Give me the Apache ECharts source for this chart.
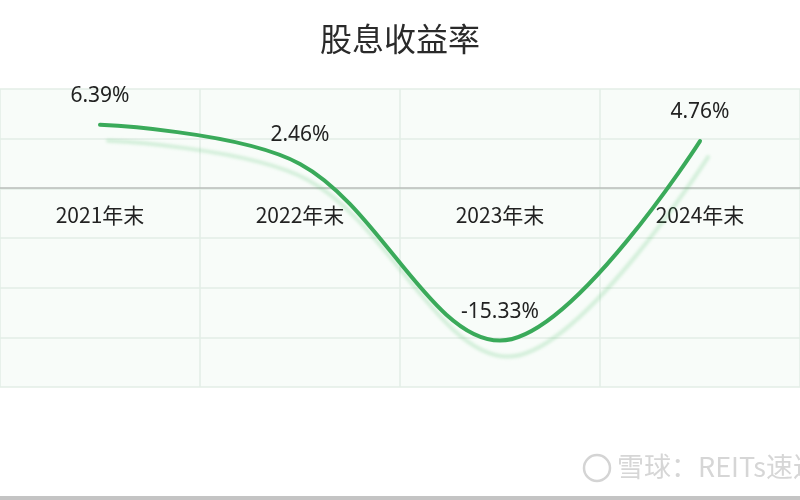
<!DOCTYPE html>
<html>
<head>
<meta charset="utf-8">
<script src="https://cdn.jsdelivr.net/npm/echarts@6/dist/echarts.min.js"></script>
<style>
    html, body {margin: 0; padding: 0; background: #fff;}
    #container {width: 800px; height: 500px;}
</style>
</head>
<body>
<div id="container"></div>
<script>
var years = ['2021年末', '2022年末', '2023年末', '2024年末'];
var yieldRate = [6.39, 2.46, -15.33, 4.76];
var yTicks = {min: -20, max: 10, interval: 5};

function createYieldChart() {
    var dom = document.getElementById("container");
    var myChart = echarts.init(dom);
    var option = {
        backgroundColor: '#fff',
        title: {
            text: '股息收益率',
            left: 'center',
            top: 18,
            textStyle: {
                fontFamily: 'Noto Sans CJK SC',
                fontSize: 32,
                fontWeight: 'normal',
                color: '#2a2a2a'
            }
        },
        grid: {
            left: -3,
            right: -5,
            top: 89,
            bottom: 113,
            show: true,
            borderWidth: 0,
            backgroundColor: '#f8fcf9'
        },
        xAxis: [
            {
                type: 'category',
                data: years,
                boundaryGap: true,
                // the zero line sits 199px above the grid bottom
                offset: -199,
                axisLine: {onZero: false, lineStyle: {color: '#b8bcb9', width: 1.5}},
                axisTick: {show: false},
                axisLabel: {
                    margin: 17,
                    fontSize: 21,
                    color: '#222',
                    fontFamily: 'Noto Sans CJK SC'
                },
                splitLine: {show: true, lineStyle: {color: '#e3eee6', width: 1.5}}
            }
        ],
        yAxis: [
            {
                type: 'value',
                min: yTicks.min,
                max: yTicks.max,
                interval: yTicks.interval,
                axisLabel: {show: false},
                axisLine: {show: false},
                axisTick: {show: false},
                splitLine: {lineStyle: {color: '#e3eee6', width: 1.5}}
            }
        ],
        series: [
            {
                type: 'line',
                data: yieldRate,
                smooth: 0.35,
                showSymbol: true,
                symbol: 'circle',
                symbolSize: 1,
                itemStyle: {color: 'rgba(0,0,0,0)'},
                lineStyle: {
                    color: '#3aaa5a',
                    width: 4,
                    cap: 'round',
                    shadowColor: 'rgba(80,195,110,0.22)',
                    shadowBlur: 3,
                    shadowOffsetX: 8,
                    shadowOffsetY: 16
                },
                label: {
                    show: true,
                    position: 'top',
                    distance: 18,
                    fontSize: 21,
                    color: '#222',
                    fontFamily: 'Noto Sans',
                    formatter: function (p) {
                        return p.value.toFixed(2) + '%';
                    }
                }
            }
        ],
        graphic: [
            {
                type: 'circle',
                shape: {cx: 597, cy: 468, r: 13},
                style: {fill: 'none', stroke: '#d4d4d4', lineWidth: 2.5}
            },
            {
                type: 'text',
                left: 617,
                top: 453,
                style: {
                    text: '雪球：REITs速达',
                    fontSize: 27,
                    fontFamily: 'Noto Sans CJK SC',
                    fill: '#d6d6d6'
                }
            },
            {
                type: 'rect',
                shape: {x: 0, y: 496, width: 800, height: 4},
                style: {fill: '#c4c4c4'}
            }
        ]
    };
    myChart.setOption(option, true);
}

createYieldChart();
</script>
</body>
</html>
